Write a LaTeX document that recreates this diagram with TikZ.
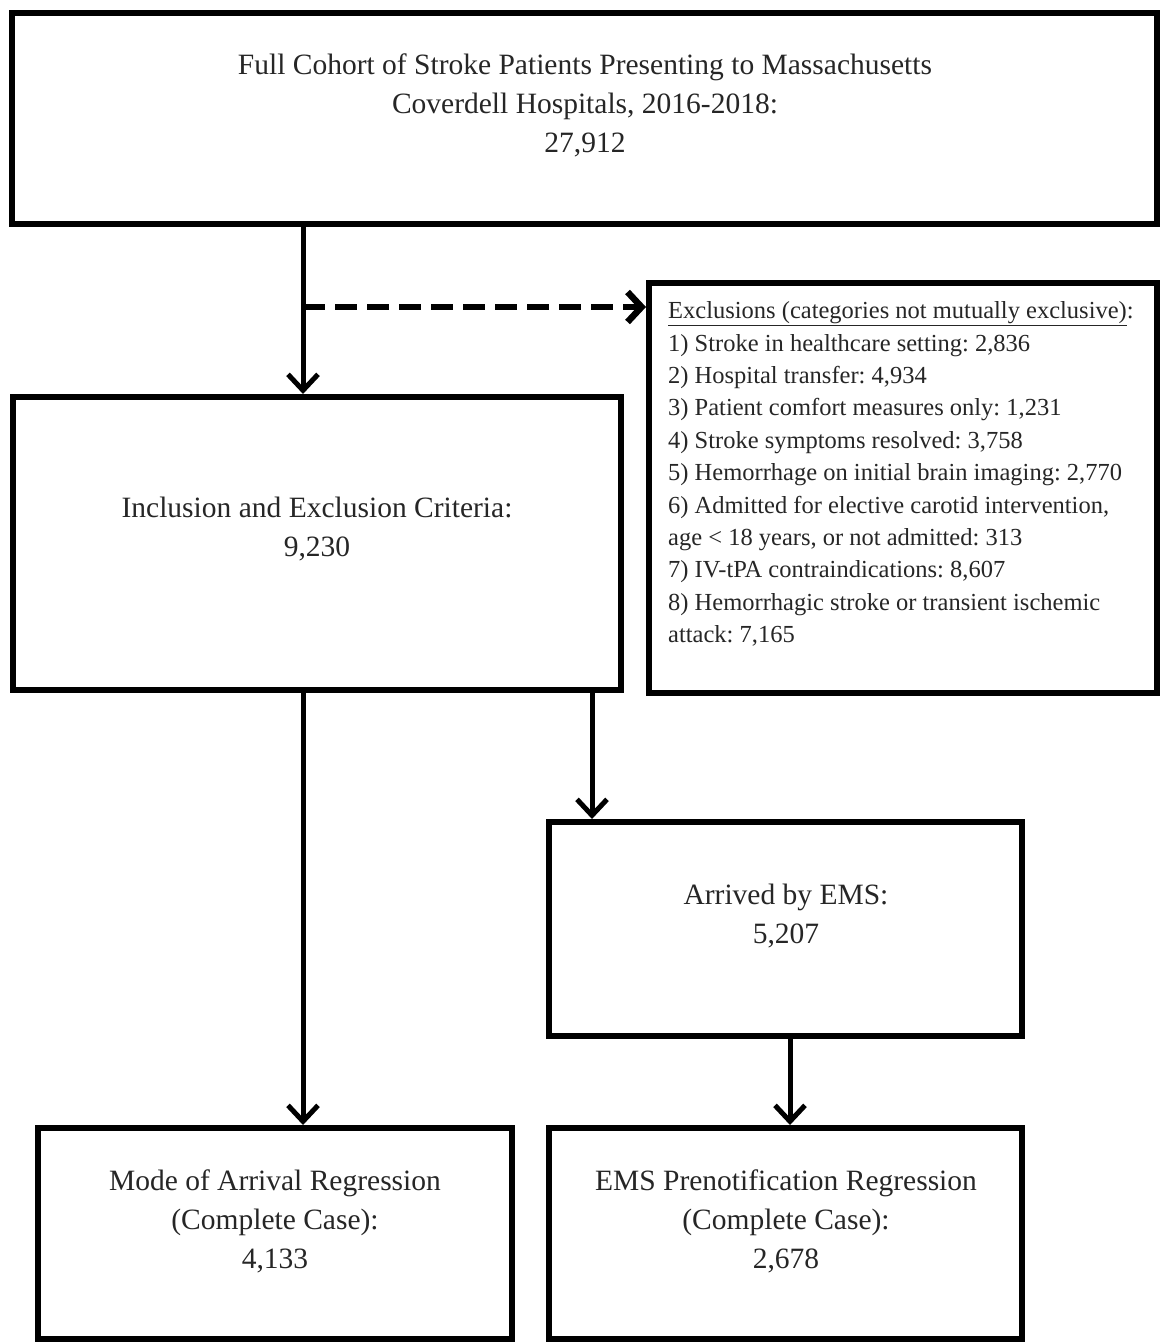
\documentclass[tikz,border=0pt]{standalone}
\usepackage{fontspec}
\setmainfont{Liberation Serif}
\usetikzlibrary{arrows.meta}
\definecolor{txtgray}{rgb}{0.15,0.15,0.15}
\frenchspacing
\begin{document}
\begin{tikzpicture}[x=1pt,y=-1pt,
  boxn/.style={draw=black,line width=6pt,inner sep=0pt,fill=white},
  txt/.style={font=\fontsize{29.5}{39}\selectfont,align=center,inner sep=0pt,text=txtgray},
  etxt/.style={font=\fontsize{24.5}{32.4}\selectfont,align=left,inner sep=0pt,text=txtgray},
  arr/.style={line width=5pt,-{Straight Barb[length=16pt,width=30pt]}},
  darr/.style={line width=6.5pt,dash pattern=on 22pt off 10pt,-{Straight Barb[length=14pt,width=30pt]}}
]
\useasboundingbox (0,0) rectangle (1161,1343);
\fill[white] (0,0) rectangle (1161,1343);

% boxes
\node[boxn,minimum width=1145pt,minimum height=211pt] (top) at (584.5,118.5) {};
\node[boxn,minimum width=608pt,minimum height=293pt] (incl) at (317,543.5) {};
\node[boxn,minimum width=508pt,minimum height=410pt] (excl) at (903,488) {};
\node[boxn,minimum width=473pt,minimum height=214pt] (ems) at (785.5,929) {};
\node[boxn,minimum width=474pt,minimum height=211pt] (mode) at (275,1233.5) {};
\node[boxn,minimum width=473pt,minimum height=211pt] (pre) at (785.5,1233.5) {};

% texts
\node[txt] (ttop) at (585,105) {Full Cohort of Stroke Patients Presenting to Massachusetts\\Coverdell Hospitals, 2016-2018:\\27,912};
\node[txt] (tincl) at (317,529) {Inclusion and Exclusion Criteria:\\9,230};
\node[txt] (tems) at (786,916) {Arrived by EMS:\\5,207};
\node[txt] (tmode) at (275,1221) {Mode of Arrival Regression\\(Complete Case):\\4,133};
\node[txt] (tpre) at (786,1221) {EMS Prenotification Regression\\(Complete Case):\\2,678};
\node[etxt,anchor=west] (texcl) at (668,474) {\underline{Exclusions (categories not mutually exclusive)}:\\
1) Stroke in healthcare setting: 2,836\\
2) Hospital transfer: 4,934\\
3) Patient comfort measures only: 1,231\\
4) Stroke symptoms resolved: 3,758\\
5) Hemorrhage on initial brain imaging: 2,770\\
6) Admitted for elective carotid intervention,\\
age < 18 years, or not admitted: 313\\
7) IV-tPA contraindications: 8,607\\
8) Hemorrhagic stroke or transient ischemic\\
attack: 7,165};

% connector columns
\coordinate (c1) at (303,307);
\coordinate (c2) at (592,0);
\coordinate (c3) at (790,0);

% connectors
\draw[arr] (top.south -| c1) -- (incl.north -| c1);
\draw[darr] (c1) -- (excl.west |- c1);
\draw[arr] (incl.south -| c1) -- (mode.north -| c1);
\draw[arr] (incl.south -| c2) -- (ems.north -| c2);
\draw[arr] (ems.south -| c3) -- (pre.north -| c3);
\end{tikzpicture}
\end{document}
